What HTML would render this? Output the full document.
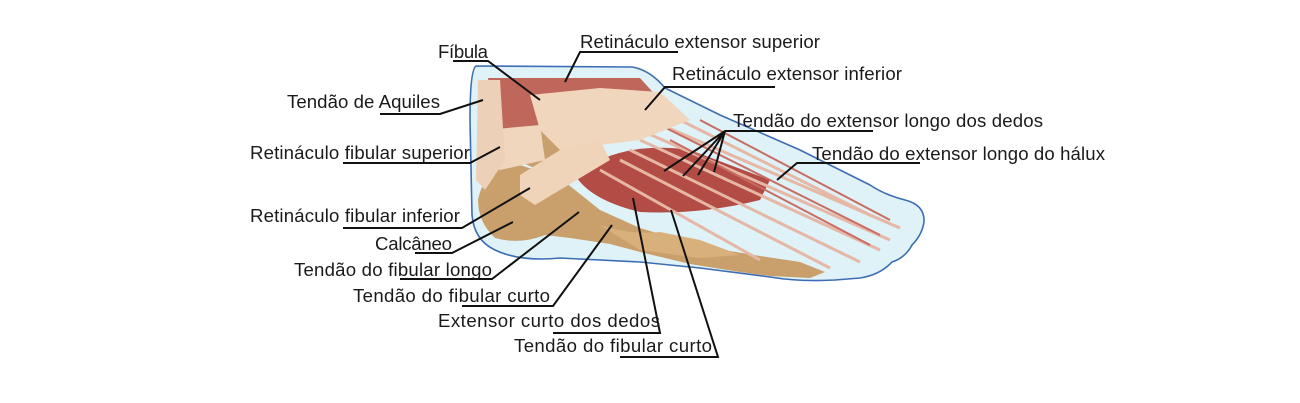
<!DOCTYPE html>
<html><head><meta charset="utf-8"><style>
html,body{margin:0;padding:0;background:#fff;}
svg{display:block;}
text{font-family:"Liberation Sans",sans-serif;font-size:18.6px;fill:#1a1a1a;}
.l{stroke:#111;stroke-width:2;fill:none;}
</style></head><body>
<svg width="1300" height="403" viewBox="0 0 1300 403" xmlns="http://www.w3.org/2000/svg">
<path d="M476,66 L632,67 Q650,70 665,88 L720,115 L800,150 L870,185 Q885,195 905,200 Q925,205 924,222 Q922,235 912,245 Q905,258 892,262 Q880,275 860,278 L835,280 Q800,282 770,277 L700,268 L640,262 L560,258 Q520,262 495,250 Q474,240 472,215 L470,120 Q470,70 476,66 Z" fill="#dff2f7" stroke="#3d6db3" stroke-width="1.6"/>
<!-- bones -->
<path d="M478,200 Q485,165 520,165 L560,178 L600,210 L640,228 L700,246 L760,256 L800,262 L825,272 L810,278 L770,276 L740,272 L690,264 L640,252 L610,244 L570,238 L545,235 Q520,245 495,238 Q478,222 478,200 Z" fill="#c9a06c"/>
<path d="M512,78 L560,78 L568,130 Q560,168 535,168 Q508,160 503,130 Z" fill="#c8a06e"/>
<path d="M600,225 Q630,235 660,232 L700,240 L740,255 L700,258 L640,250 Z" fill="#d8b07c"/>
<!-- muscles top -->
<path d="M488,78 L640,78 L660,100 L600,115 L560,110 L520,140 L495,135 Z" fill="#c0675c"/>
<path d="M575,175 Q620,140 690,150 L770,180 L760,200 Q700,215 640,212 Q590,200 575,175 Z" fill="#b24c44"/>
<g stroke="#e6b7a5" stroke-width="3" fill="none">
<path d="M640,130 L890,240"/><path d="M640,140 L880,250"/><path d="M630,150 L860,262"/><path d="M620,160 L830,268"/><path d="M650,120 L900,228"/>
<path d="M600,170 L760,260"/><path d="M660,110 L870,215"/>
</g>
<g stroke="#c86d62" stroke-width="2" fill="none">
<path d="M660,125 L880,235"/><path d="M670,140 L870,245"/><path d="M700,120 L890,220"/>
</g>
<path d="M530,95 L600,88 L660,92 L690,120 L640,140 L560,150 L540,130 Z" fill="#f0d6bd"/>
<path d="M485,130 L540,125 L545,160 L500,170 L480,160 Z" fill="#f0d6bd"/>
<path d="M520,175 L560,150 L600,140 L610,160 L560,190 L535,205 L520,195 Z" fill="#efd4ba"/>
<path d="M478,80 L500,80 L505,160 L485,190 L476,180 Z" fill="#ecd0b7"/>
<!-- leader lines -->
<path class="l" d="M453,61 L488,61 L540,100"/>
<path class="l" d="M678,52 L580,52 L565,82"/>
<path class="l" d="M775,87 L665,87 L645,110"/>
<path class="l" d="M873,131 L725,131 L664,171 M725,131 L683,176 M725,131 L698,175 M725,131 L714,172"/>
<path class="l" d="M920,163 L797,163 L777,180"/>
<path class="l" d="M380,114 L440,114 L483,100"/>
<path class="l" d="M343,163 L470,163 L500,147"/>
<path class="l" d="M343,228 L462,228 L530,188"/>
<path class="l" d="M415,253 L452,253 L513,222"/>
<path class="l" d="M400,279 L492,279 L579,212"/>
<path class="l" d="M462,306 L553,306 L612,225"/>
<path class="l" d="M553,333 L660,333 L633,198"/>
<path class="l" d="M620,357 L718,357 L671,210"/>
<!-- labels -->
<text x="438" y="58" textLength="50">Fíbula</text>
<text x="580" y="48" textLength="240">Retináculo extensor superior</text>
<text x="672" y="80" textLength="230">Retináculo extensor inferior</text>
<text x="733" y="127" textLength="310">Tendão do extensor longo dos dedos</text>
<text x="812" y="160" textLength="293">Tendão do extensor longo do hálux</text>
<text x="287" y="108" textLength="153">Tendão de Aquiles</text>
<text x="250" y="159" textLength="220">Retináculo fibular superior</text>
<text x="250" y="222" textLength="210">Retináculo fibular inferior</text>
<text x="375" y="250" textLength="77">Calcâneo</text>
<text x="294" y="276" textLength="198">Tendão do fibular longo</text>
<text x="353" y="302" textLength="197">Tendão do fibular curto</text>
<text x="438" y="327" textLength="222">Extensor curto dos dedos</text>
<text x="514" y="352" textLength="198">Tendão do fibular curto</text>
</svg>
</body></html>
